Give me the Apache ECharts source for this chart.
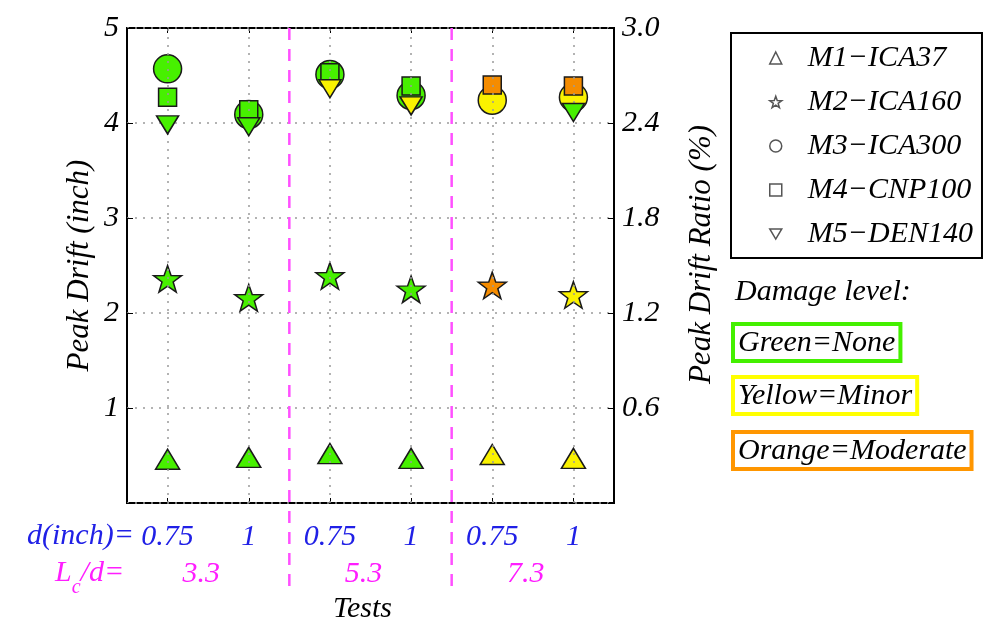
<!DOCTYPE html>
<html>
<head>
<meta charset="utf-8">
<script src="https://cdn.jsdelivr.net/npm/echarts@6/dist/echarts.min.js"></script>
<style>html,body{margin:0;padding:0;background:#fff}#c{width:985px;height:631px}</style>
</head>
<body>
<div id="c"></div>
<script>
// ---- data ----
const testPos = [1, 2, 3, 4, 5, 6];
const dLabels = ['0.75', '1', '0.75', '1', '0.75', '1'];
const lcdPos = [1.5, 3.5, 5.5];
const lcdLabels = ['3.3', '5.3', '7.3'];
const groupBounds = [2.5, 4.5];
const seriesNames = ['M1\u2212ICA37', 'M2\u2212ICA160', 'M3\u2212ICA300', 'M4\u2212CNP100', 'M5\u2212DEN140'];
const m1 = [0.46, 0.48, 0.52, 0.47, 0.51, 0.47];
const m2 = [2.36, 2.16, 2.39, 2.25, 2.29, 2.19];
const m3 = [4.57, 4.09, 4.51, 4.29, 4.24, 4.27];
const m4 = [4.27, 4.14, 4.53, 4.39, 4.40, 4.39];
const m5 = [3.98, 3.96, 4.36, 4.18, null, 4.11];
const m1Dmg = ['G', 'G', 'G', 'G', 'Y', 'Y'];
const m2Dmg = ['G', 'G', 'G', 'G', 'O', 'Y'];
const m3Dmg = ['G', 'G', 'G', 'G', 'Y', 'Y'];
const m4Dmg = ['G', 'G', 'G', 'G', 'O', 'O'];
const m5Dmg = ['G', 'G', 'Y', 'Y', 'Y', 'G'];
const damageLabels = ['Green=None', 'Yellow=Minor', 'Orange=Moderate'];

// ---- styles ----
const dmgColor = { G: '#47F000', Y: '#FAF200', O: '#F58C00' };
const dmgBorder = ['#44F000', '#FFFF00', '#FF9600'];
const FONT = 'Liberation Serif';
const starPath = 'path://M0,-50 L11.8,-16.2 L47.6,-15.5 L19,6.2 L29.4,40.5 L0,20 L-29.4,40.5 L-19,6.2 L-47.6,-15.5 L-11.8,-16.2 Z';
const downTriPath = 'path://M0,0 L20,0 L10,17 Z';

function pts(vals, dmg) {
  return vals.map((v, i) => v == null ? null : ({
    value: [testPos[i], v],
    itemStyle: { color: dmgColor[dmg[i]] }
  })).filter(d => d);
}
const baseItem = { color: '#fff', borderColor: '#1a1a1a', borderWidth: 1.5, opacity: 1 };
const it = (size) => ({ fontFamily: FONT, fontStyle: 'italic', fontSize: size, color: '#000' });

const chart = echarts.init(document.getElementById('c'), null, { renderer: 'canvas' });

const option = {
  animation: false,
  backgroundColor: '#fff',
  grid: { left: 127, right: 371, top: 28, bottom: 128, show: true, borderColor: '#000', borderWidth: 2, backgroundColor: 'transparent' },
  legend: {
    data: seriesNames.map((n, i) => i === 4 ? { name: n, icon: downTriPath } : { name: n }),
    orient: 'vertical',
    left: 731, top: 33,
    padding: [10, 9, 9, 38],
    itemGap: 14,
    itemWidth: 12, itemHeight: 12,
    borderColor: '#000', borderWidth: 2,
    itemStyle: { color: '#fff', borderColor: '#555', borderWidth: 1.5, opacity: 1 },
    textStyle: Object.assign(it(30), { lineHeight: 30, padding: [0, 0, 0, 21] })
  },
  xAxis: [
    {
      type: 'value', min: 0.5, max: 6.5, position: 'bottom',
      axisLine: { show: false },
      axisTick: { show: true, inside: true, length: 5, customValues: testPos, lineStyle: { color: '#000' } },
      splitLine: { show: false },
      axisLabel: Object.assign(it(30), { customValues: testPos, margin: 19, formatter: v => dLabels[testPos.indexOf(v)], color: '#2020E6' })
    },
    {
      type: 'value', min: 0.5, max: 6.5, position: 'bottom', offset: 36,
      axisLine: { show: false }, axisTick: { show: false }, splitLine: { show: false },
      axisLabel: Object.assign(it(30), { customValues: lcdPos, margin: 20, padding: [0, 14, 0, 0], formatter: v => lcdLabels[lcdPos.indexOf(v)], color: '#FF1EFF' }),
      name: 'Tests', nameLocation: 'middle', nameGap: 55,
      nameTextStyle: Object.assign(it(30), { padding: [0, 16, 0, 0] })
    },
    {
      type: 'value', min: 0.5, max: 6.5, position: 'top',
      axisLine: { show: false },
      axisTick: { show: true, inside: true, length: 5, customValues: testPos, lineStyle: { color: '#000' } },
      splitLine: { show: false }, axisLabel: { show: false }
    }
  ],
  yAxis: [
    {
      type: 'value', min: 0, max: 5, interval: 1, position: 'left',
      axisLine: { show: false },
      axisTick: { show: true, inside: true, length: 6, lineStyle: { color: '#000' } },
      splitLine: { show: true, lineStyle: { color: '#9a9a9a', type: [2, 6], width: 1.5 } },
      axisLabel: Object.assign(it(30), { margin: 8, formatter: v => (v === 0 ? '' : String(v)) }),
      name: 'Peak Drift (inch)', nameLocation: 'middle', nameGap: 32, nameRotate: 90,
      nameTextStyle: it(31)
    },
    {
      type: 'value', min: 0, max: 3, interval: 0.6, position: 'right',
      axisLine: { show: false },
      axisTick: { show: true, inside: true, length: 6, lineStyle: { color: '#000' } },
      splitLine: { show: false },
      axisLabel: Object.assign(it(30), { margin: 8, formatter: v => (v === 0 ? '' : v.toFixed(1)) }),
      name: 'Peak Drift Ratio (%)', nameLocation: 'middle', nameGap: 72, nameRotate: 90,
      nameTextStyle: Object.assign(it(31), { padding: [0, 0, 0, 22] })
    }
  ],
  series: [
    {
      name: seriesNames[0], type: 'scatter', z: 3, symbol: 'triangle', symbolSize: [24, 20],
      itemStyle: baseItem, data: pts(m1, m1Dmg),
      markLine: {
        silent: true, symbol: 'none', label: { show: false }, animation: false,
        lineStyle: { color: '#9a9a9a', type: [2, 6], width: 1.5 },
        data: testPos.map(p => ({ xAxis: p }))
      }
    },
    { name: seriesNames[1], type: 'scatter', z: 3, symbol: starPath, symbolKeepAspect: true, symbolSize: 28, itemStyle: baseItem, data: pts(m2, m2Dmg) },
    { name: seriesNames[2], type: 'scatter', z: 3, symbol: 'circle', symbolSize: 28, itemStyle: baseItem, data: pts(m3, m3Dmg) },
    { name: seriesNames[3], type: 'scatter', z: 4, symbol: 'rect', symbolSize: 18, itemStyle: baseItem, data: pts(m4, m4Dmg) },
    { name: seriesNames[4], type: 'scatter', z: 5, symbol: 'triangle', symbolRotate: 180, symbolSize: [22, 18], itemStyle: baseItem, data: pts(m5, m5Dmg) }
  ]
};
chart.setOption(option);

// dashed group separators and the side annotations, placed through the axis scales
const plotTopY = chart.convertToPixel({ yAxisIndex: 0 }, 5);
const graphics = groupBounds.map(b => {
  const x = chart.convertToPixel({ xAxisIndex: 0 }, b);
  return { type: 'line', silent: true, z: 10, shape: { x1: x, y1: plotTopY, x2: x, y2: 586 }, style: { stroke: '#FF50FF', lineWidth: 2.5, lineDash: [12, 9] } };
});
graphics.push(
  { type: 'text', left: 27, top: 521, style: { text: 'd(inch)=', font: 'italic 30px "Liberation Serif"', fill: '#2020E6' } },
  { type: 'text', left: 55, top: 558, style: { text: '{a|L}{s|c}{a|/d=}', rich: { a: { font: 'italic 30px "Liberation Serif"', fill: '#FF1EFF', verticalAlign: 'top' }, s: { font: 'italic 20px "Liberation Serif"', fill: '#FF1EFF', padding: [20, 0, 0, 0] } }, font: 'italic 30px "Liberation Serif"', fill: '#FF1EFF' } },
  { type: 'text', left: 735, top: 277, style: { text: 'Damage level:', font: 'italic 30px "Liberation Serif"', fill: '#000' } }
);
const boxTops = [322, 375, 430];
damageLabels.forEach((t, i) => {
  graphics.push({ type: 'text', left: 731, top: boxTops[i], style: { text: t, font: 'italic 30px "Liberation Serif"', fill: '#000', borderColor: dmgBorder[i], borderWidth: 4, padding: [4, 5, 3, 5] } });
});
chart.setOption({ graphic: graphics });
</script>
</body>
</html>
